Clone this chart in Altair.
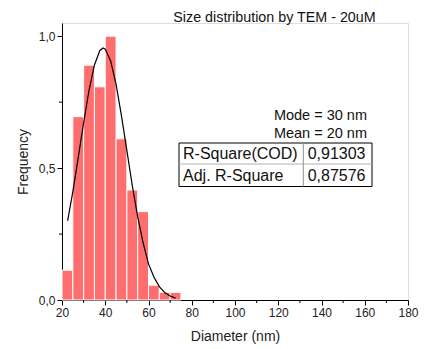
import altair as alt
import pandas as pd

# Histogram bins (nm) and relative frequency
bin_start = [20, 25, 30, 35, 40, 45, 50, 55, 60, 65, 70]
bin_end = [25, 30, 35, 40, 45, 50, 55, 60, 65, 70, 75]
freq = [0.113, 0.695, 0.89, 0.808, 1.0, 0.611, 0.417, 0.335, 0.056, 0.029, 0.029]

# Fitted curve
fit_x = [22.6, 25, 27.5, 30, 32.5, 35, 37.5, 39, 40, 42.5, 45, 47.5, 50, 52.5, 55,
         57.5, 60, 62.5, 65, 67.5, 70, 72.5]
fit_y = [0.30, 0.41, 0.54, 0.672, 0.795, 0.891, 0.946, 0.955, 0.951, 0.906, 0.817,
         0.698, 0.566, 0.434, 0.315, 0.217, 0.137, 0.087, 0.051, 0.028, 0.015, 0.007]

x_ticks = [20, 40, 60, 80, 100, 120, 140, 160, 180]
x_minor = [30, 50, 70, 90, 110, 130, 150, 170]
y_ticks = [0.0, 0.5, 1.0]
y_minor = [0.25, 0.75]

title_text = "Size distribution by TEM - 20uM"
notes = ["Mode = 30 nm", "Mean = 20 nm"]
table_labels = ["R-Square(COD)", "Adj. R-Square"]
table_values = ["0,91303", "0,87576"]

FONT = "Liberation Sans"
W, H = 346, 277

bars_df = pd.DataFrame({"start": bin_start, "end": bin_end, "freq": freq})
fit_df = pd.DataFrame({"x": fit_x, "y": fit_y})

xscale = alt.Scale(domain=[20, 180], nice=False, zero=False)
yscale = alt.Scale(domain=[0, 1.05], nice=False)

label_expr = "replace(format(datum.value, '.1f'), '.', ',')"

common_axis = dict(grid=False, tickSize=5, labelFontSize=12, titleFontSize=14,
                   titleFontWeight="normal", labelFont=FONT, titleFont=FONT,
                   domainColor="black", tickColor="black",
                   labelColor="#222222", titleColor="#222222",
                   labelPadding=2, labelFlush=False)

bars = alt.Chart(bars_df).mark_bar(color="#FF6E6E", stroke="white", strokeWidth=1).encode(
    x=alt.X("start:Q", scale=xscale,
            axis=alt.Axis(values=x_ticks, title="Diameter (nm)", titlePadding=11,
                          **common_axis)),
    x2="end:Q",
    y=alt.Y("freq:Q", scale=yscale,
            axis=alt.Axis(values=y_ticks, title="Frequency", labelExpr=label_expr,
                          titlePadding=8, **common_axis)),
    y2=alt.datum(0),
)

line = alt.Chart(fit_df).mark_line(color="black", strokeWidth=1.2).encode(
    x=alt.X("x:Q", scale=xscale), y=alt.Y("y:Q", scale=yscale))

xminor = alt.Chart(pd.DataFrame({"v": x_minor})).mark_rule(color="black").encode(
    x=alt.X("v:Q", scale=xscale), y=alt.value(H), y2=alt.value(H + 3))
yminor = alt.Chart(pd.DataFrame({"v": y_minor})).mark_rule(color="black").encode(
    y=alt.Y("v:Q", scale=yscale), x=alt.value(-3), x2=alt.value(0))

one = pd.DataFrame({"a": [0]})

title = alt.Chart(one).mark_text(font=FONT, fontSize=14.3, color="#111111",
                                 baseline="alphabetic").encode(
    x=alt.value(212.5), y=alt.value(-1.5), text=alt.value(title_text))

notes_df = pd.DataFrame({"t": notes, "y": [97, 114.5]})
notes_layer = alt.Chart(notes_df).mark_text(font=FONT, fontSize=14.5, align="right",
                                            baseline="alphabetic",
                                            color="#111111").encode(
    x=alt.value(305), y=alt.Y("y:Q", scale=None), text="t:N")

box = alt.Chart(one).mark_rect(fill="white", stroke="black", strokeWidth=1).encode(
    x=alt.value(117), x2=alt.value(310), y=alt.value(120), y2=alt.value(163.5))
hline = alt.Chart(one).mark_rule(color="#b0b0b0").encode(
    x=alt.value(117), x2=alt.value(310), y=alt.value(141))
vline = alt.Chart(one).mark_rule(color="#909090").encode(
    x=alt.value(241.3), y=alt.value(120), y2=alt.value(163.5))

tab_df = pd.DataFrame({"lab": table_labels, "val": table_values, "y": [135.5, 158]})
tab_lab = alt.Chart(tab_df).mark_text(font=FONT, fontSize=16, align="left",
                                      baseline="alphabetic",
                                      color="#111111").encode(
    x=alt.value(121), y=alt.Y("y:Q", scale=None), text="lab:N")
tab_val = alt.Chart(tab_df).mark_text(font=FONT, fontSize=16, align="right",
                                      baseline="alphabetic",
                                      color="#111111").encode(
    x=alt.value(303.5), y=alt.Y("y:Q", scale=None), text="val:N")

chart = alt.layer(bars, line, xminor, yminor, title, notes_layer, box, hline, vline,
                  tab_lab, tab_val).properties(
    width=W, height=H,
    autosize=alt.AutoSizeParams(type="none"),
    padding={"left": 62, "top": 23, "right": 16, "bottom": 45},
).configure_view(stroke=None).configure(background="white")

chart.save("out.html", embed_options={"renderer": "svg", "actions": False})
